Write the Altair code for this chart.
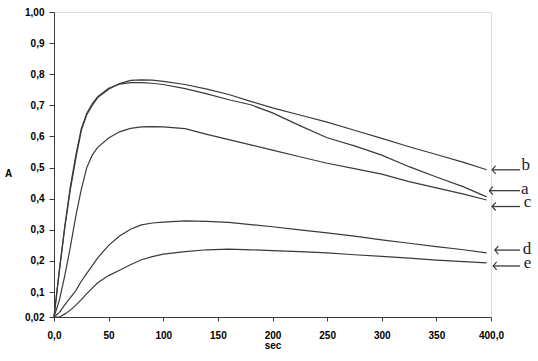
import altair as alt
import pandas as pd

# time grid (sec)
t = [0, 5, 10, 15, 20, 25, 30, 35, 40, 50, 60, 70, 80, 90, 100, 120, 140, 160,
     180, 200, 225, 250, 275, 300, 325, 350, 375, 396]

a = [0.02, 0.175, 0.315, 0.44, 0.54, 0.625, 0.675, 0.705, 0.728, 0.755, 0.768, 0.773,
     0.773, 0.771, 0.767, 0.754, 0.737, 0.718, 0.702, 0.676, 0.635, 0.596, 0.570,
     0.540, 0.503, 0.470, 0.438, 0.406]
b = [0.02, 0.17, 0.31, 0.43, 0.53, 0.62, 0.67, 0.70, 0.725, 0.752, 0.770, 0.780,
     0.782, 0.781, 0.777, 0.767, 0.752, 0.735, 0.713, 0.692, 0.669, 0.646, 0.620,
     0.594, 0.567, 0.542, 0.517, 0.493]
c = [0.02, 0.075, 0.155, 0.245, 0.345, 0.43, 0.50, 0.54, 0.565, 0.595, 0.615, 0.626,
     0.631, 0.632, 0.631, 0.625, 0.607, 0.590, 0.573, 0.556, 0.535, 0.514, 0.497,
     0.479, 0.455, 0.435, 0.415, 0.396]
d = [0.02, 0.035, 0.06, 0.082, 0.105, 0.135, 0.16, 0.185, 0.21, 0.25, 0.28, 0.302,
     0.316, 0.322, 0.325, 0.329, 0.327, 0.324, 0.317, 0.31, 0.30, 0.29, 0.28, 0.268,
     0.257, 0.246, 0.236, 0.226]
e = [0.02, 0.02, 0.03, 0.042, 0.058, 0.076, 0.095, 0.113, 0.13, 0.153, 0.17, 0.188,
     0.204, 0.214, 0.222, 0.230, 0.236, 0.238, 0.236, 0.233, 0.230, 0.226, 0.220,
     0.215, 0.209, 0.203, 0.198, 0.194]

# curve labels and their arrow positions
labels = ["a", "b", "c", "d", "e"]
arrow_y = [0.426, 0.493, 0.375, 0.235, 0.184]
arrow_tip = [398.5, 401.0, 401.0, 403.5, 402.0]
arrow_end = [426.5, 426.5, 426.5, 426.5, 426.5]
label_x = [427.5, 428.0, 430.0, 429.0, 430.0]
label_y = [0.416, 0.493, 0.373, 0.223, 0.178]

yticks = [0.02, 0.1, 0.2, 0.3, 0.4, 0.5, 0.6, 0.7, 0.8, 0.9, 1.0]
xticks = [0, 50, 100, 150, 200, 250, 300, 350, 400]

series = {"a": a, "b": b, "c": c, "d": d, "e": e}
rows = []
for name, vals in series.items():
    for tt, v in zip(t, vals):
        rows.append({"t": tt, "A": v, "s": name})
df = pd.DataFrame(rows)

ann = pd.DataFrame({"s": labels, "y": arrow_y, "tip": arrow_tip, "end": arrow_end,
                    "lx": label_x, "ly": label_y})

ink = "#3a3a3a"
xscale = alt.Scale(domain=[0, 400], nice=False, zero=False)
yscale = alt.Scale(domain=[0.02, 1.0], nice=False, zero=False)

xaxis = alt.Axis(values=xticks, title="sec", grid=False, labelOverlap=False,
                 labelExpr="datum.value == 0 ? '0,0' : (datum.value == 400 ? '400,0' : datum.label)",
                 labelFont="Liberation Sans", labelFontWeight="bold", labelFontSize=10,
                 labelColor="black", labelPadding=9, tickSize=4,
                 titleFont="Liberation Sans", titleFontWeight="bold", titleFontSize=10,
                 titleColor="black", titleY=31, titleBaseline="alphabetic",
                 domainColor=ink, tickColor=ink, labelFlush=False)
yaxis = alt.Axis(values=yticks, title="A", grid=False, labelOverlap=False,
                 labelExpr="datum.value == 0.02 ? '0,02' : (datum.value == 1 ? '1,00' : replace(format(datum.value, '.1f'), '.', ','))",
                 labelFont="Liberation Sans", labelFontWeight="bold", labelFontSize=10,
                 labelColor="black", labelPadding=5, tickSize=5,
                 titleFont="Liberation Sans", titleFontWeight="bold", titleFontSize=10,
                 titleColor="black", titleAngle=0, titleX=-46, titleY=161,
                 titleAlign="center", titleBaseline="middle",
                 domainColor=ink, tickColor=ink, labelFlush=False)

lines = alt.Chart(df).mark_line(color=ink, strokeWidth=1.2).encode(
    x=alt.X("t:Q", scale=xscale, axis=xaxis),
    y=alt.Y("A:Q", scale=yscale, axis=yaxis),
    detail="s:N",
)

shafts = alt.Chart(ann).mark_rule(color=ink, strokeWidth=1.3).encode(
    x=alt.X("tip:Q", scale=xscale, axis=xaxis),
    x2="end:Q",
    y=alt.Y("y:Q", scale=yscale, axis=yaxis),
)

heads = alt.Chart(ann).mark_point(
    shape="M0.875,-1L0,0L0.875,1", size=64, filled=False, color=ink, strokeWidth=1.2,
    opacity=1,
).encode(
    x=alt.X("tip:Q", scale=xscale, axis=xaxis),
    y=alt.Y("y:Q", scale=yscale, axis=yaxis),
)

texts = alt.Chart(ann).mark_text(
    font="Liberation Serif", fontSize=17, align="left", baseline="alphabetic",
    color="#1a1a33",
).encode(
    x=alt.X("lx:Q", scale=xscale, axis=xaxis),
    y=alt.Y("ly:Q", scale=yscale, axis=yaxis),
    text="s:N",
)

chart = alt.layer(lines, shafts, heads, texts).properties(
    width=437, height=305,
    autosize=alt.AutoSizeParams(type="none"),
    padding={"left": 54, "top": 12, "right": 47, "bottom": 44},
).configure_view(strokeWidth=0).configure(background="white")

chart.save("out.html", embed_options={"renderer": "svg", "actions": False})
